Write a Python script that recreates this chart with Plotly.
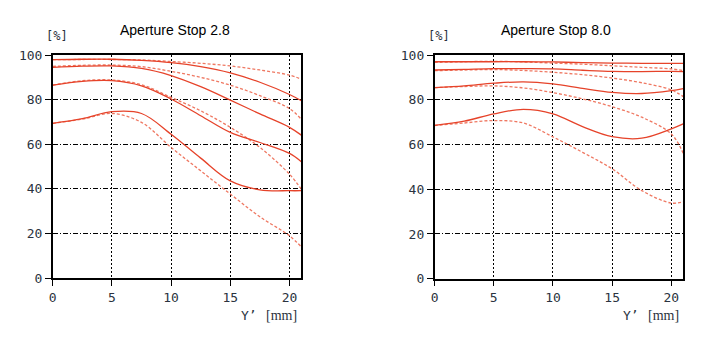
import plotly.graph_objects as go

# Image height Y' in mm, shared by every curve
y_img = [0, 2.5, 5, 7.5, 10, 12.5, 15, 17.5, 20, 21]

# Aperture 2.8 -- sagittal (solid) and tangential (dashed), four frequencies
f28_sag_1 = [97.9, 98.1, 98.1, 97.6, 96.6, 94.8, 92.0, 87.8, 82.3, 79.5]
f28_tan_1 = [97.9, 98.0, 98.0, 97.8, 97.1, 96.3, 95.1, 93.3, 91.0, 89.2]
f28_sag_2 = [94.5, 95.0, 95.1, 94.0, 90.8, 85.8, 79.8, 73.6, 67.6, 64.1]
f28_tan_2 = [94.9, 95.4, 95.5, 94.8, 92.7, 90.0, 86.5, 81.8, 76.0, 71.2]
f28_sag_3 = [86.5, 88.2, 88.5, 86.2, 80.3, 72.8, 65.3, 60.8, 55.9, 52.2]
f28_tan_3 = [86.5, 88.5, 88.8, 86.7, 81.0, 75.0, 67.6, 58.6, 46.6, 39.9]
f28_sag_4 = [69.4, 71.5, 74.6, 73.8, 64.5, 53.8, 43.6, 39.6, 39.2, 39.2]
f28_tan_4 = [69.4, 71.3, 73.8, 69.8, 58.6, 48.1, 37.7, 27.5, 19.0, 14.0]

# Aperture 8.0
f80_sag_1 = [97.0, 97.0, 97.0, 97.0, 96.9, 96.6, 96.4, 96.3, 96.3, 96.3]
f80_tan_1 = [96.7, 97.0, 97.2, 96.9, 96.4, 95.9, 95.2, 94.5, 93.8, 93.0]
f80_sag_2 = [93.3, 93.6, 93.9, 93.9, 93.8, 93.2, 92.7, 92.6, 92.7, 92.6]
f80_tan_2 = [93.0, 93.3, 93.5, 93.1, 92.3, 91.2, 89.7, 87.6, 84.4, 81.4]
f80_sag_3 = [85.4, 86.2, 87.4, 88.0, 87.1, 85.1, 83.3, 82.8, 84.1, 85.0]
f80_tan_3 = [85.4, 85.9, 86.2, 85.3, 83.2, 80.4, 76.9, 72.2, 64.7, 56.1]
f80_sag_4 = [68.5, 70.4, 73.7, 75.7, 73.7, 68.0, 63.5, 62.8, 67.0, 69.2]
f80_tan_4 = [68.5, 69.6, 70.7, 69.6, 63.4, 56.5, 49.1, 39.4, 33.8, 34.4]

x_ticks = [0, 5, 10, 15, 20]
y_ticks = [0, 20, 40, 60, 80, 100]
titles = ["Aperture Stop 2.8", "Aperture Stop 8.0"]

SOLID = "#e6432a"
DASH = "#ef7862"

W, H = 717, 346
# effective drawing height and top offset of the page area
H_EFF, TOP = 331.5, 6.2


def py(px):
    """Paper y fraction for a pixel row measured from the top."""
    return 1 - (px - TOP) / H_EFF


def pxx(px):
    return px / W


fig = go.Figure()

panels = [
    ("x", "y", [f28_sag_1, f28_sag_2, f28_sag_3, f28_sag_4],
     [f28_tan_1, f28_tan_2, f28_tan_3, f28_tan_4]),
    ("x2", "y2", [f80_sag_1, f80_sag_2, f80_sag_3, f80_sag_4],
     [f80_tan_1, f80_tan_2, f80_tan_3, f80_tan_4]),
]
for xa, ya, sags, tans in panels:
    for t in tans:
        fig.add_trace(go.Scatter(x=y_img, y=t, xaxis=xa, yaxis=ya, mode="lines",
                                 line=dict(color=DASH, width=1.3, dash="3px,2px",
                                           shape="spline", smoothing=1.0),
                                 showlegend=False, hoverinfo="skip"))
    for s in sags:
        fig.add_trace(go.Scatter(x=y_img, y=s, xaxis=xa, yaxis=ya, mode="lines",
                                 line=dict(color=SOLID, width=1.3,
                                           shape="spline", smoothing=1.0),
                                 showlegend=False, hoverinfo="skip"))

tick_font = dict(family="DejaVu Sans Mono", size=13, color="#2b3340")
xcommon = dict(range=[0, 21], tickvals=x_ticks, ticks="outside", ticklen=6,
               tickcolor="black", tickwidth=1, showline=True, linecolor="black",
               linewidth=1.5, mirror=True, showgrid=True, gridcolor="black",
               gridwidth=1, griddash="2px,2px", zeroline=False, tickfont=tick_font)
ycommon = dict(range=[0, 100], tickvals=y_ticks, ticks="outside", ticklen=6,
               tickcolor="black", tickwidth=1, showline=True, linecolor="black",
               linewidth=1.5, mirror=True, showgrid=True, gridcolor="black",
               gridwidth=1, griddash="5px,2px,1px,2px", zeroline=False,
               tickfont=tick_font)

fig.update_layout(
    width=W, height=H, margin=dict(l=0, r=0, t=0, b=0),
    paper_bgcolor="white", plot_bgcolor="white",
    xaxis=dict(domain=[pxx(49), pxx(299)], anchor="y", **xcommon),
    yaxis=dict(domain=[py(277.8), py(54.3)], anchor="x", **ycommon),
    xaxis2=dict(domain=[pxx(433), pxx(683)], anchor="y2", **xcommon),
    yaxis2=dict(domain=[py(278.3), py(54.3)], anchor="x2", **ycommon),
)

ann = []
for cx, title in zip([172, 555], titles):
    ann.append(dict(x=pxx(cx), y=py(29), xref="paper", yref="paper",
                    text=title, showarrow=False, xanchor="center", yanchor="middle",
                    font=dict(family="Liberation Sans", size=14, color="black")))
for lx in [40, 424]:
    ann.append(dict(x=pxx(lx), y=py(35), xref="paper", yref="paper",
                    text="[%]", showarrow=False, xanchor="left", yanchor="middle",
                    font=dict(family="DejaVu Sans Mono", size=12, color="#2b3340")))
for lx in [236, 620]:
    ann.append(dict(x=pxx(lx), y=py(315), xref="paper", yref="paper",
                    text="Y\u2019", showarrow=False, xanchor="left", yanchor="middle",
                    font=dict(family="DejaVu Sans Mono", size=13, color="#2b3340")))
    ann.append(dict(x=pxx(lx + 61), y=py(315), xref="paper", yref="paper",
                    text="[mm]", showarrow=False, xanchor="right", yanchor="middle",
                    font=dict(family="Liberation Serif", size=14, color="#2b3340")))
fig.update_layout(annotations=ann)

fig.write_html("out.html")
